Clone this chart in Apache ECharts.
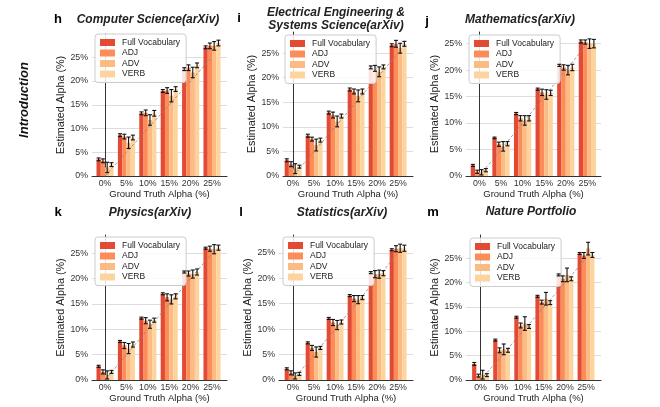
<!DOCTYPE html>
<html>
<head>
<meta charset="utf-8">
<script src="https://cdn.jsdelivr.net/npm/echarts@6/dist/echarts.min.js"></script>
<style>html,body{margin:0;padding:0;background:#fff}#c{width:660px;height:407px}</style>
</head>
<body>
<div id="c"></div>
<script>
// ---------- data ----------
const tickLabels = ['0%', '5%', '10%', '15%', '20%', '25%'];
const groundTruth = [0, 5, 10, 15, 20, 25];
const seriesNames = ['Full Vocabulary', 'ADJ', 'ADV', 'VERB'];
const panelTitles = ['Computer Science(arXiv)', 'Electrical Engineering &\nSystems Science(arXiv)', 'Mathematics(arXiv)',
  'Physics(arXiv)', 'Statistics(arXiv)', 'Nature Portfolio'];
const panelLetters = ['h', 'i', 'j', 'k', 'l', 'm'];

// rows: Full Vocabulary, ADJ, ADV, VERB
const csValues = [[3.5, 8.6, 13.2, 17.9, 22.5, 27.1], [3.2, 8.3, 13.3, 18.0, 22.8, 27.4], [1.8, 7.0, 11.8, 16.9, 21.8, 27.4], [2.4, 8.1, 13.2, 18.3, 23.3, 28.0]];
const csErrors = [[0.3, 0.3, 0.3, 0.3, 0.3, 0.3], [0.4, 0.5, 0.6, 0.6, 0.6, 0.6], [1.1, 1.2, 1.1, 1.3, 1.1, 0.9], [0.4, 0.5, 0.6, 0.5, 0.5, 0.6]];
const eeValues = [[3.2, 8.2, 12.9, 17.6, 22.1, 26.6], [2.4, 7.5, 12.4, 17.2, 21.9, 26.9], [1.5, 6.3, 11.1, 16.3, 21.2, 26.0], [1.9, 7.3, 12.2, 17.2, 22.2, 26.9]];
const eeErrors = [[0.3, 0.3, 0.3, 0.3, 0.3, 0.3], [0.5, 0.4, 0.6, 0.5, 0.6, 0.7], [1.0, 1.2, 1.1, 1.2, 1.0, 1.0], [0.3, 0.4, 0.4, 0.5, 0.4, 0.5]];
const mathValues = [[2.0, 7.2, 11.8, 16.4, 20.9, 25.4], [0.8, 6.0, 10.9, 15.8, 20.5, 25.3], [0.7, 5.6, 10.5, 15.4, 20.0, 25.0], [1.1, 6.1, 10.9, 15.7, 20.5, 25.0]];
const mathErrors = [[0.2, 0.15, 0.2, 0.2, 0.2, 0.3], [0.3, 0.4, 0.5, 0.6, 0.5, 0.4], [0.5, 0.9, 0.9, 0.9, 0.9, 0.9], [0.3, 0.4, 0.5, 0.5, 0.6, 0.8]];
const physValues = [[2.7, 7.6, 12.2, 17.0, 21.3, 26.0], [1.6, 6.8, 11.7, 16.3, 21.0, 25.9], [1.0, 6.2, 11.0, 15.9, 20.9, 25.8], [1.6, 7.0, 11.8, 16.5, 21.3, 26.1]];
const physErrors = [[0.2, 0.2, 0.2, 0.2, 0.2, 0.2], [0.4, 0.6, 0.6, 0.7, 0.5, 0.5], [0.8, 1.0, 0.8, 0.9, 0.8, 0.9], [0.3, 0.5, 0.4, 0.5, 0.6, 0.5]];
const statValues = [[2.2, 7.3, 12.1, 16.6, 21.1, 25.6], [1.4, 6.3, 11.3, 16.0, 20.8, 25.8], [0.8, 5.5, 10.8, 15.8, 20.8, 25.9], [1.2, 6.3, 11.4, 16.2, 21.0, 25.9]];
const statErrors = [[0.2, 0.2, 0.2, 0.2, 0.2, 0.2], [0.4, 0.5, 0.6, 0.6, 0.7, 0.6], [0.6, 1.0, 0.9, 0.8, 0.8, 0.8], [0.3, 0.3, 0.4, 0.4, 0.5, 0.6]];
const natureValues = [[3.3, 8.2, 12.9, 17.2, 21.6, 26.0], [0.9, 6.1, 11.2, 16.0, 20.8, 25.6], [1.1, 6.3, 11.6, 16.7, 21.6, 27.0], [1.0, 6.1, 11.0, 15.9, 20.8, 25.7]];
const natureErrors = [[0.3, 0.2, 0.2, 0.2, 0.2, 0.2], [0.3, 0.5, 0.5, 0.4, 0.6, 0.6], [0.9, 1.1, 1.4, 1.3, 1.4, 1.3], [0.3, 0.4, 0.4, 0.4, 0.4, 0.5]];

// ---------- layout / style ----------
const colors = ['#e34a33', '#fc8d59', '#fdbb84', '#fdd49e'];
const FONT = 'Liberation Sans, Arial, Helvetica, sans-serif';
const panels = [
  {vals: csValues, errs: csErrors, left: 92, top: 34, width: 135, height: 142, xmin: -0.61, xmax: 5.70, ymax: 29.9,
   titleX: 148, titleY: 13, letterX: 58, letterY: 13, legX: 95, legY: 34, nameGap: 21},
  {vals: eeValues, errs: eeErrors, left: 283, top: 32, width: 130, height: 144, xmin: -0.48, xmax: 5.71, ymax: 29.3,
   titleX: 336, titleY: 6, letterX: 239, letterY: 12, legX: 285, legY: 35, nameGap: 22},
  {vals: mathValues, errs: mathErrors, left: 466, top: 32, width: 135, height: 144, xmin: -0.62, xmax: 5.63, ymax: 27.2,
   titleX: 520, titleY: 13, letterX: 427, letterY: 15, legX: 469, legY: 35, nameGap: 15},
  {vals: physValues, errs: physErrors, left: 92, top: 235, width: 135, height: 145, xmin: -0.61, xmax: 5.70, ymax: 28.6,
   titleX: 150, titleY: 206, letterX: 58, letterY: 206, legX: 95, legY: 237, nameGap: 21},
  {vals: statValues, errs: statErrors, left: 279, top: 235, width: 134, height: 145, xmin: -0.67, xmax: 5.71, ymax: 28.5,
   titleX: 342, titleY: 206, letterX: 241, letterY: 206, legX: 283, legY: 237, nameGap: 20},
  {vals: natureValues, errs: natureErrors, left: 466, top: 235, width: 135, height: 145, xmin: -0.69, xmax: 5.71, ymax: 29.8,
   titleX: 531, titleY: 205, letterX: 433, letterY: 206, legX: 470, legY: 238, nameGap: 14}
];
const offsets = [-0.3, -0.1, 0.1, 0.3];

function renderErr(params, api) {
  const x = api.value(0), lo = api.value(1), hi = api.value(2);
  const p1 = api.coord([x, lo]), p2 = api.coord([x, hi]);
  const hw = 2;
  const style = {stroke: '#111', lineWidth: 1.1, fill: null};
  return {type: 'group', children: [
    {type: 'line', shape: {x1: p1[0], y1: p1[1], x2: p2[0], y2: p2[1]}, style},
    {type: 'line', shape: {x1: p1[0] - hw, y1: p1[1], x2: p1[0] + hw, y2: p1[1]}, style},
    {type: 'line', shape: {x1: p2[0] - hw, y1: p2[1], x2: p2[0] + hw, y2: p2[1]}, style}
  ]};
}

const option = {
  animation: false,
  backgroundColor: '#fff',
  textStyle: {fontFamily: FONT},
  title: [], legend: [], grid: [], xAxis: [], yAxis: [], series: [],
  graphic: [{
    type: 'text', x: 24, y: 100, rotation: Math.PI / 2,
    style: {text: 'Introduction', font: 'italic bold 13px ' + FONT, fill: '#111', textAlign: 'center', textVerticalAlign: 'middle'}
  }]
};

panels.forEach((p, k) => {
  const pitch = p.width / (p.xmax - p.xmin);
  option.title.push({
    text: panelTitles[k], left: p.titleX, top: p.titleY, textAlign: 'center', padding: 0,
    textStyle: {fontSize: 12, fontWeight: 'bold', fontStyle: 'italic', color: '#222', fontFamily: FONT, lineHeight: 13}
  });
  option.title.push({
    text: panelLetters[k], left: p.letterX, top: p.letterY, textAlign: 'center', padding: 0,
    textStyle: {fontSize: 13, fontWeight: 'bold', color: '#000', fontFamily: FONT}
  });
  option.legend.push({
    orient: 'vertical', left: p.legX, top: p.legY, data: seriesNames, icon: 'rect',
    itemWidth: 15, itemHeight: 7, itemGap: 1.5, padding: [4, 6, 4, 5], selectedMode: false,
    backgroundColor: 'rgba(255,255,255,0.85)', borderColor: '#cccccc', borderWidth: 1, borderRadius: 3,
    textStyle: {fontSize: 8.5, color: '#222', fontFamily: FONT, padding: [0, 0, 0, 2]}
  });
  option.grid.push({left: p.left, top: p.top, width: p.width, height: p.height, containLabel: false, outerBoundsMode: 'none'});
  option.xAxis.push({
    gridIndex: k, type: 'value', min: p.xmin, max: p.xmax,
    name: 'Ground Truth Alpha (%)', nameLocation: 'middle', nameGap: 12,
    nameTextStyle: {fontSize: 9.5, color: '#222', fontFamily: FONT},
    axisLine: {onZero: false, lineStyle: {color: '#333', width: 1}},
    axisTick: {show: false}, splitLine: {show: false},
    axisLabel: {customValues: tickLabels.map((t, i) => i), formatter: v => tickLabels[Math.round(v)],
      fontSize: 8.8, color: '#333', margin: 3, fontFamily: FONT}
  });
  option.yAxis.push({
    gridIndex: k, type: 'value', min: 0, max: p.ymax, interval: 5,
    name: 'Estimated Alpha (%)', nameLocation: 'middle', nameGap: p.nameGap,
    nameTextStyle: {fontSize: 10.8, color: '#222', fontFamily: FONT},
    axisLine: {show: true, lineStyle: {color: '#333', width: 1}},
    axisTick: {show: false},
    splitLine: {show: true, showMaxLine: false, lineStyle: {color: '#d4d4d4', width: 0.8}},
    axisLabel: {formatter: '{value}%', fontSize: 8.8, color: '#333', margin: 4, showMaxLabel: false, fontFamily: FONT}
  });
  seriesNames.forEach((name, s) => {
    option.series.push({
      type: 'bar', name, xAxisIndex: k, yAxisIndex: k, barWidth: pitch * 0.2, barGap: '-100%',
      itemStyle: {color: colors[s]}, z: 2,
      data: p.vals[s].map((v, i) => [i + offsets[s], v])
    });
  });
  option.series.push({
    type: 'line', name: 'identity', xAxisIndex: k, yAxisIndex: k, showSymbol: false, z: 3,
    lineStyle: {color: '#888', width: 0.8, type: [3, 2]},
    data: groundTruth.map((g, i) => [i, g])
  });
  seriesNames.forEach((name, s) => {
    option.series.push({
      type: 'custom', name: 'err-' + name, xAxisIndex: k, yAxisIndex: k, z: 4,
      renderItem: renderErr, encode: {x: 0, y: [1, 2]},
      data: p.vals[s].map((v, i) => [i + offsets[s], v - p.errs[s][i], v + p.errs[s][i]])
    });
  });
});

const chart = echarts.init(document.getElementById('c'), null, {renderer: 'canvas'});
chart.setOption(option);
</script>
</body>
</html>
